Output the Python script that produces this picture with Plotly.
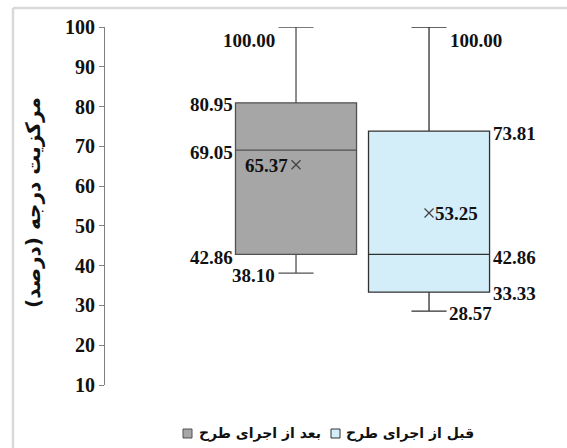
import plotly.graph_objects as go

# Degree centrality (percent) before / after the plan
groups = ["بعد از اجرای طرح", "قبل از اجرای طرح"]
positions = [0, 1]
mins = [38.10, 28.57]
q1s = [42.86, 33.33]
medians = [69.05, 42.86]
q3s = [80.95, 73.81]
maxs = [100.00, 100.00]
means = [65.37, 53.25]
fills = ["#a6a6a6", "#d4eef9"]
edges = ["#505050", "#303030"]

W, H = 567, 448
L, R, T, B = 105, 12, 27, 63
PW, PH = W - L - R, H - T - B

def px_x(p):
    return (p - L) / PW

def px_y(p):
    return (H - B - p) / PH

SERIF = "Liberation Serif, Times New Roman, serif"

fig = go.Figure()
for i in range(2):
    fig.add_trace(go.Box(
        x=[positions[i]], q1=[q1s[i]], median=[medians[i]], q3=[q3s[i]],
        lowerfence=[mins[i]], upperfence=[maxs[i]],
        name=groups[i], fillcolor=fills[i],
        line=dict(color=edges[i], width=1.3),
        width=0.91, whiskerwidth=0.29, boxpoints=False, showlegend=False,
    ))

fig.add_trace(go.Scatter(
    x=positions, y=means, mode="markers", showlegend=False, hoverinfo="skip",
    marker=dict(symbol="x-thin", size=9, line=dict(color="#404040", width=1.2)),
))

lab_font = dict(family=SERIF, size=19, color="#111111")

def label(x, y, v, anchor, shift):
    fig.add_annotation(x=x, y=y, text=f"<b>{v:.2f}</b>", xref="x", yref="y",
                       showarrow=False, xanchor=anchor, yanchor="middle",
                       yshift=shift, font=lab_font)

# left box: labels on the left side
label(-0.143, maxs[0], maxs[0], "right", -13)
label(-0.458, q3s[0], q3s[0], "right", -2)
label(-0.458, medians[0], medians[0], "right", -2)
label(-0.458, q1s[0], q1s[0], "right", -3)
label(-0.143, mins[0], mins[0], "right", -2)
label(-0.045, means[0], means[0], "right", -1)

# right box: labels on the right side
label(1.143, maxs[1], maxs[1], "left", -13)
label(1.466, q3s[1], q3s[1], "left", -2)
label(1.466, medians[1], medians[1], "left", -3)
label(1.466, q1s[1], q1s[1], "left", -1)
label(1.135, mins[1], mins[1], "left", -2)
label(1.03, means[1], means[1], "left", -1)

fig.add_annotation(
    text="<b>مرکزیت درجه (درصد)</b>", xref="paper", yref="paper",
    x=px_x(33), y=px_y(203), textangle=-90, showarrow=False,
    xanchor="center", yanchor="middle",
    font=dict(family="DejaVu Sans", size=20, color="#111111"),
)

# legend row: square swatch followed by the group name
leg_y = 433.5
swatch_x = [183, 331]
text_x = [197, 344]
for i in range(2):
    fig.add_shape(type="rect", xref="paper", yref="paper",
                  x0=px_x(swatch_x[i]), x1=px_x(swatch_x[i] + 9),
                  y0=px_y(leg_y - 4.5), y1=px_y(leg_y + 4.5),
                  fillcolor=fills[i], line=dict(color=edges[i], width=1))
    fig.add_annotation(text=f"<b>{groups[i]}</b>", xref="paper", yref="paper",
                       x=px_x(text_x[i]), y=px_y(leg_y), showarrow=False,
                       xanchor="left", yanchor="middle",
                       font=dict(family="DejaVu Sans", size=14, color="#111111"))

# outer frame lines
frame = dict(color="#d9d9d9", width=2.5)
fig.add_shape(type="line", xref="paper", yref="paper",
              x0=px_x(13), x1=px_x(W), y0=px_y(8), y1=px_y(8), line=frame)
fig.add_shape(type="line", xref="paper", yref="paper",
              x0=px_x(13), x1=px_x(13), y0=px_y(8), y1=px_y(H), line=frame)

fig.update_layout(
    width=W, height=H, margin=dict(l=L, r=R, t=T, b=B),
    paper_bgcolor="white", plot_bgcolor="white",
    xaxis=dict(visible=False, range=[-1.436, 1.947]),
    yaxis=dict(range=[10, 100], dtick=10, showgrid=False, zeroline=False,
               showline=True, linecolor="#808080", linewidth=1,
               ticks="outside", ticklen=5, tickcolor="#808080",
               tickfont=dict(family=SERIF, size=20, color="#111111"),
               tickprefix="<b>", ticksuffix="</b>"),
    showlegend=False,
)

fig.write_html("out.html")
